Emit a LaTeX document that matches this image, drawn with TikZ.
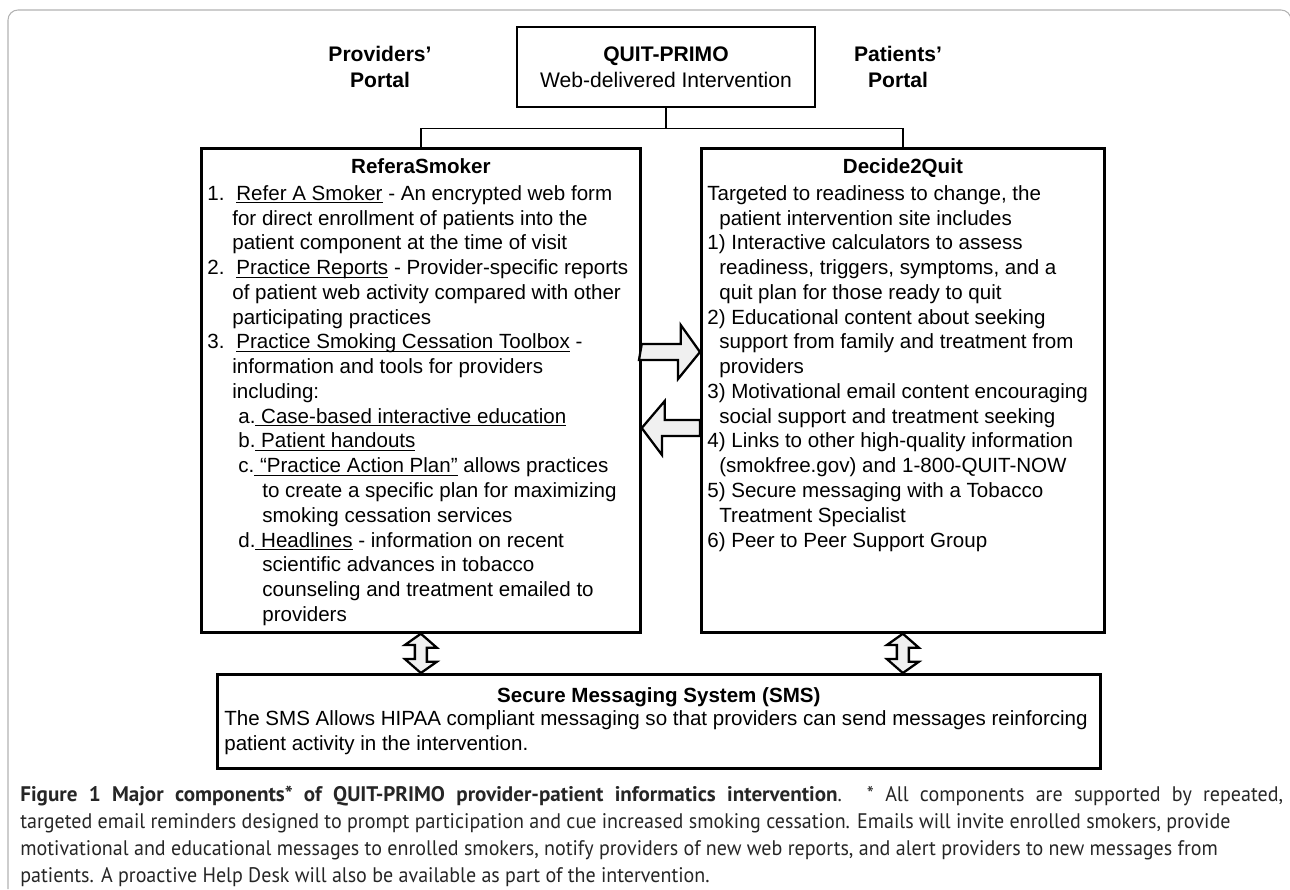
\documentclass[tikz,border=0pt]{standalone}
\usepackage{fontspec}
\setmainfont{Liberation Sans}
\newfontfamily\captionfont{PT Sans}[FakeStretch=0.95]
\newfontfamily\captionbold{PT Sans}
\usetikzlibrary{positioning,calc}

\newcommand{\boxfont}{\fontsize{11.7}{14.1}\selectfont}
\newcommand{\itemlab}[1]{\makebox[0.58cm][l]{#1}}
\newcommand{\uln}[1]{{\setbox0=\hbox{#1}\dp0=0pt\underline{\box0}}}

\tikzset{
  panel/.style={draw, line width=1.6pt, inner sep=0pt},
  boxtext/.style={font=\boxfont, align=left, inner sep=0pt, anchor=north west},
  boxtitle/.style={font=\boxfont\bfseries, inner sep=0pt, anchor=base},
  portal/.style={font=\fontsize{12}{14.6}\selectfont\bfseries, align=center},
  link/.style={line width=0.9pt},
  blockarrow/.style={draw, line width=1.3pt, fill=gray!12, line join=miter},
}

\begin{document}
\begin{tikzpicture}[x=0.02cm, y=-0.02cm]
  \useasboundingbox (0,0) rectangle (1290,889);
  %outer frame
  \draw[gray!60, line width=0.6pt, rounded corners=0.2cm] (8,889) -- (8,10) -- (1291,10) -- (1291,889);
  %top box and the portal labels
  \node[panel, minimum width=5.96cm, minimum height=1.6cm, font=\fontsize{12}{14.6}\selectfont, align=center] (quit) at (666,67) {\textbf{QUIT-PRIMO}\\Web-delivered Intervention};
  \node[portal] (prov) at (380,67) {Providers'\\Portal};
  \node[portal] (pat) at (898,67) {Patients'\\Portal};
  %the two sites and the messaging box
  \node[panel, anchor=north west, minimum width=8.78cm, minimum height=9.68cm] (refer) at (200,147) {};
  \node[panel, anchor=north west, minimum width=8.06cm, minimum height=9.68cm] (decide) at (700,147) {};
  \node[panel, anchor=north west, minimum width=17.66cm, minimum height=1.88cm] (sms) at (216,673) {};
  %titles
  \node[boxtitle] (refert) at ($(refer.north)+(0,26)$) {ReferaSmoker};
  \node[boxtitle] (decidet) at ($(decide.north)+(0,26)$) {Decide2Quit};
  \node[boxtitle] (smst) at ($(sms.north)+(0,29)$) {Secure Messaging System (SMS)};
  %box contents
  \node[boxtext] (refertx) at ($(refer.north west)+(7,38)$) {%
    \itemlab{1.}\uln{Refer A Smoker} - An encrypted web form\\
    \hspace*{0.5cm}for direct enrollment of patients into the\\
    \hspace*{0.5cm}patient component at the time of visit\\
    \itemlab{2.}\uln{Practice Reports} - Provider-specific reports\\
    \hspace*{0.5cm}of patient web activity compared with other\\
    \hspace*{0.5cm}participating practices\\
    \itemlab{3.}\uln{Practice Smoking Cessation Toolbox} -\\
    \hspace*{0.5cm}information and tools for providers\\
    \hspace*{0.5cm}including:\\
    \hspace*{0.62cm}a.\uln{ Case-based interactive education}\\
    \hspace*{0.62cm}b.\uln{ Patient handouts}\\
    \hspace*{0.62cm}c.\uln{ “Practice Action Plan”} allows practices\\
    \hspace*{1.1cm}to create a specific plan for maximizing\\
    \hspace*{1.1cm}smoking cessation services\\
    \hspace*{0.62cm}d.\uln{ Headlines} - information on recent\\
    \hspace*{1.1cm}scientific advances in tobacco\\
    \hspace*{1.1cm}counseling and treatment emailed to\\
    \hspace*{1.1cm}providers};
  \node[boxtext] (decidetx) at ($(decide.north west)+(7,38)$) {%
    Targeted to readiness to change, the\\
    \hspace*{0.24cm}patient intervention site includes\\
    1) Interactive calculators to assess\\
    \hspace*{0.24cm}readiness, triggers, symptoms, and a\\
    \hspace*{0.24cm}quit plan for those ready to quit\\
    2) Educational content about seeking\\
    \hspace*{0.24cm}support from family and treatment from\\
    \hspace*{0.24cm}providers\\
    3) Motivational email content encouraging\\
    \hspace*{0.24cm}social support and treatment seeking\\
    4) Links to other high-quality information\\
    \hspace*{0.24cm}(smokfree.gov) and 1-800-QUIT-NOW\\
    5) Secure messaging with a Tobacco\\
    \hspace*{0.24cm}Treatment Specialist\\
    6) Peer to Peer Support Group};
  \node[boxtext] (smstx) at ($(sms.north west)+(8,37)$) {%
    The SMS Allows HIPAA compliant messaging so that providers can send messages reinforcing\\
    patient activity in the intervention.};
  %tree lines
  \draw[link] (quit.south) -- ++(0,20) -| (refer.north);
  \draw[link] (quit.south) -- ++(0,20) -| (decide.north);
  %block arrows between the sites
  \coordinate (rowA) at (0,352);
  \coordinate (rowB) at (0,428);
  \draw[blockarrow] ($(refer.east |- rowA)+(0,-8)$) -- ++(39,0) -- ++(0,-19) -- (decide.west |- rowA) -- ++(-22,27) -- ++(0,-19) -- ++(-39,0) -- cycle;
  \draw[blockarrow] (refer.east |- rowB) -- ++(23,-27) -- ++(0,19) -- ($(decide.west |- rowB)+(0,-8)$) -- ++(0,16) -- ++(-38,0) -- ++(0,19) -- cycle;
  %up-down arrows to the messaging box
  \draw[blockarrow] (refer.south) -- ++(16,14) -- ++(-10,0) -- ++(0,14) -- ++(10,0) -- (refer.south |- sms.north) -- ++(-16,-14) -- ++(10,0) -- ++(0,-14) -- ++(-10,0) -- cycle;
  \draw[blockarrow] (decide.south) -- ++(16,14) -- ++(-10,0) -- ++(0,14) -- ++(10,0) -- (decide.south |- sms.north) -- ++(-16,-14) -- ++(10,0) -- ++(0,-14) -- ++(-10,0) -- cycle;
  %caption
  \node[anchor=north west, inner sep=0pt, align=left, text=black!85, font=\captionfont\fontsize{12}{15.3}\selectfont] (cap) at (20,786) {%
    \makebox[25.26cm][s]{{\captionbold\bfseries Figure 1 Major components* of QUIT-PRIMO provider-patient informatics intervention}. * All components are supported by repeated,}\\
    targeted email reminders designed to prompt participation and cue increased smoking cessation. Emails will invite enrolled smokers, provide\\
    motivational and educational messages to enrolled smokers, notify providers of new web reports, and alert providers to new messages from\\
    patients. A proactive Help Desk will also be available as part of the intervention.};
\end{tikzpicture}
\end{document}
